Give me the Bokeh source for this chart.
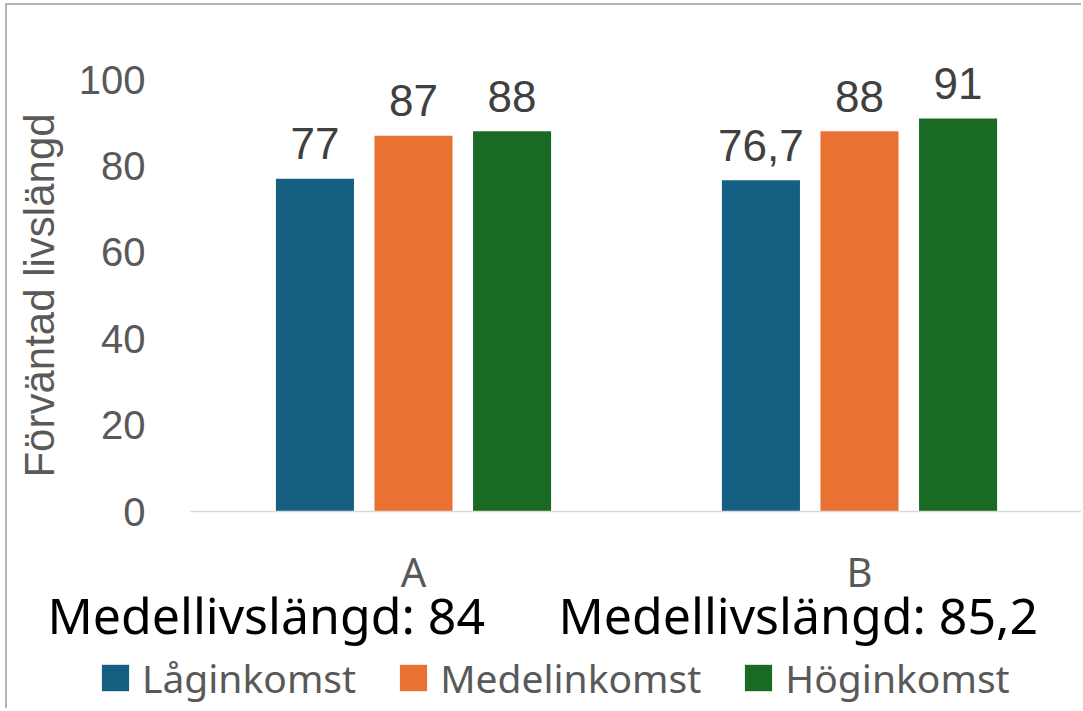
from bokeh.plotting import figure
from bokeh.models import Range1d, FixedTicker, Legend, LegendItem, ColumnDataSource, Label
from bokeh.embed import file_html
from bokeh.resources import INLINE
from bokeh.core.properties import value

# ---- data ----
categories = ["A", "B"]
series = ["Låginkomst", "Medelinkomst", "Höginkomst"]
lag_values = [77, 76.7]
medel_values = [87, 88]
hog_values = [88, 91]
avg_labels = ["Medellivslängd: 84", "Medellivslängd: 85,2"]
y_ticks = [0, 20, 40, 60, 80, 100]
y_title = "Förväntad livslängd"
colors = ["#156082", "#e97132", "#196b24"]


def fmt(v):
    return f"{v:g}".replace(".", ",")


W, H = 1076, 705
# plot area geometry (canvas px): x=0 at X0, XS px per category; y=0 at Y0, YS px per unit
X0, XS = 183, 446.0
Y0, YS = 506, 4.32
x_range = Range1d(-X0 / XS, (W - X0) / XS)
y_range = Range1d(-(H - Y0) / YS, Y0 / YS)

p = figure(width=W, height=H, output_backend="svg", toolbar_location=None,
           x_range=x_range, y_range=y_range,
           min_border=0, min_border_left=0, min_border_right=0, min_border_top=0,
           min_border_bottom=0, background_fill_color="white",
           border_fill_color="white", outline_line_color=None)
p.styles = {"border-left": "2px solid #b4b4b4", "border-top": "2px solid #b4b4b4",
            "margin-left": "5px", "margin-top": "3px"}
p.xgrid.visible = False
p.ygrid.visible = False

centers = [i + 0.5 for i in range(len(categories))]
offsets = [-0.221, 0.0, 0.221]
bar_w = 0.175

renderers = []
for vals, off, col in zip([lag_values, medel_values, hog_values], offsets, colors):
    src = ColumnDataSource(dict(x=[c + off for c in centers], top=vals,
                                lab=[fmt(v) for v in vals]))
    r = p.vbar(x="x", top="top", width=bar_w, source=src, fill_color=col,
               line_color=None)
    renderers.append(r)
    p.text(x="x", y="top", text="lab", source=src, text_align="center",
           text_baseline="alphabetic", y_offset=-35,
           text_font=value("Liberation Sans"), text_font_size="44px",
           text_color="#404040")

# y axis
ya = p.yaxis[0]
ya.fixed_location = 0
ya.bounds = (0, 100)
ya.ticker = FixedTicker(ticks=y_ticks)
ya.axis_line_color = None
ya.major_tick_line_color = None
ya.minor_tick_line_color = None
ya.major_tick_out = 0
ya.major_tick_in = 0
ya.major_label_standoff = 45
ya.major_label_text_font = "Liberation Sans"
ya.major_label_text_font_size = "40px"
ya.major_label_text_color = "#595959"
ya.axis_label = y_title
ya.axis_label_text_font = "Liberation Sans"
ya.axis_label_text_font_size = "42px"
ya.axis_label_text_font_style = "normal"
ya.axis_label_text_color = "#595959"
ya.axis_label_standoff = 13

# x axis (categories)
xa = p.xaxis[0]
xa.fixed_location = 0
xa.bounds = (0, (W - X0) / XS)
xa.ticker = FixedTicker(ticks=centers)
xa.major_label_overrides = {c: cat for c, cat in zip(centers, categories)}
xa.axis_line_color = "#d9d9d9"
xa.axis_line_width = 1.5
xa.major_tick_line_color = None
xa.minor_tick_line_color = None
xa.major_tick_out = 0
xa.major_tick_in = 0
xa.major_label_standoff = 32
xa.major_label_text_font = "Noto Sans"
xa.major_label_text_font_size = "40px"
xa.major_label_text_color = "#595959"

# average life expectancy texts
for txt, sx in zip(avg_labels, [40, 551]):
    p.add_layout(Label(x=sx, y=96, x_units="screen", y_units="screen", text=txt,
                       text_font="Noto Sans", text_font_size="50px",
                       text_color="black", text_align="left",
                       text_baseline="alphabetic"))

legend = Legend(items=[LegendItem(label=s, renderers=[r]) for s, r in zip(series, renderers)],
                orientation="horizontal", location=(91, 6))
legend.label_text_font = "Noto Sans"
legend.label_text_font_size = "39px"
legend.label_text_color = "#595959"
legend.glyph_width = 34
legend.glyph_height = 33
legend.label_standoff = 10
legend.spacing = 40
legend.padding = 0
legend.margin = 0
legend.border_line_color = None
legend.background_fill_alpha = 0
p.add_layout(legend, "center")

open("out.html", "w").write(file_html(p, INLINE))
